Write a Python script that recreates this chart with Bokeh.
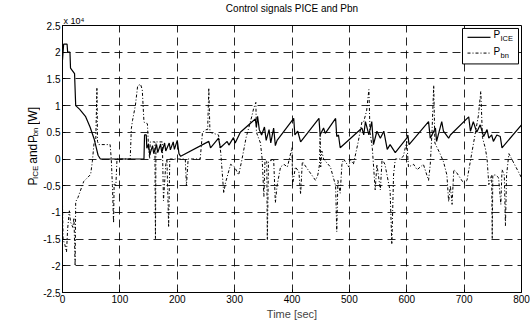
from bokeh.plotting import figure
from bokeh.models import Label, FixedTicker, Range1d, Title
from bokeh.layouts import row
from bokeh.embed import file_html
from bokeh.resources import INLINE

# ---- data (values in units of 1e4 W) ----
t_ice = [0, 2, 8, 9, 13, 14, 21, 23, 30, 40,
         48, 55, 58, 62, 66, 142, 143, 146, 147, 150,
         152, 157, 159, 164, 166, 171, 173, 178, 180, 186,
         188, 193, 195, 200, 203, 206, 255, 258, 272, 275,
         287, 290, 298, 301, 310, 336, 338, 340, 343, 347,
         352, 355, 360, 363, 368, 371, 374, 403, 405, 410,
         415, 447, 449, 455, 458, 476, 478, 481, 484, 522,
         525, 528, 534, 539, 542, 548, 554, 560, 566, 571,
         580, 600, 602, 604, 638, 641, 650, 652, 661, 664,
         673, 676, 708, 711, 716, 722, 728, 734, 740, 743,
         748, 751, 757, 763, 766, 800]
p_ice = [1.85, 2.15, 2.15, 2.0, 2.0, 1.7, 1.6, 1.0, 0.93, 0.8,
         0.6, 0.38, 0.25, 0.07, 0.0, 0.0, 0.45, 0.45, 0.2, 0.28,
         0.08, 0.25, 0.1, 0.27, 0.12, 0.28, 0.12, 0.3, 0.15, 0.3,
         0.17, 0.32, 0.18, 0.35, 0.1, 0.05, 0.33, 0.21, 0.39, 0.21,
         0.33, 0.26, 0.4, 0.3, 0.5, 0.75, 0.6, 0.8, 0.55, 0.45,
         0.6, 0.35, 0.55, 0.3, 0.58, 0.25, 0.35, 0.76, 0.45, 0.52,
         0.32, 0.76, 0.45, 0.58, 0.48, 0.76, 0.42, 0.45, 0.21, 0.58,
         0.45, 0.7, 0.45, 0.7, 0.27, 0.52, 0.39, 0.52, 0.18, 0.27,
         0.12, 0.39, 0.45, 0.27, 0.7, 0.39, 0.58, 0.33, 0.7, 0.52,
         0.39, 0.45, 0.79, 0.52, 0.7, 0.5, 0.64, 0.42, 0.55, 0.39,
         0.45, 0.33, 0.45, 0.42, 0.21, 0.64]

t_bn = [0, 1, 4, 7, 9, 12, 14, 18, 20, 22,
        23, 27, 37, 49, 52, 55, 58, 60, 61, 63,
        83, 85, 87, 89, 90, 93, 95, 118, 120, 122,
        127, 131, 136, 139, 142, 148, 150, 152, 153, 161,
        162, 163, 174, 176, 180, 182, 185, 187, 214, 216,
        219, 240, 244, 250, 253, 255, 257, 272, 276, 281,
        284, 293, 300, 307, 312, 320, 330, 333, 337, 338,
        345, 348, 351, 353, 356, 357, 359, 368, 371, 374,
        380, 386, 392, 400, 401, 406, 412, 415, 418, 441,
        445, 448, 449, 450, 452, 455, 467, 476, 478, 480,
        484, 487, 490, 499, 502, 507, 515, 522, 525, 530,
        534, 536, 540, 545, 548, 554, 557, 562, 571, 574,
        577, 580, 588, 594, 600, 603, 612, 618, 629, 638,
        641, 644, 647, 649, 658, 664, 670, 673, 676, 679,
        682, 686, 699, 705, 725, 729, 732, 737, 740, 743,
        748, 749, 750, 755, 760, 764, 766, 770, 772, 774,
        778, 800]
p_bn = [-0.85, -1.5, -1.6, -1.74, -1.3, -0.97, -1.18, -1.28, -1.1, -2.0,
        -0.8, -0.72, -0.42, -0.29, -0.05, 0.3, 0.35, 1.34, 0.33, 0.27,
        0.27, 0.0, -0.5, -1.2, -0.45, -0.5, 0.0, 0.0, 0.57, 0.72,
        1.0, 1.37, 1.4, 1.3, 0.69, 0.66, 0.2, 0.0, 0.32, 0.32,
        -1.5, 0.32, 0.32, -0.78, -0.1, 0.0, -1.28, 0.0, 0.0, -0.5,
        0.0, 0.0, 0.5, 0.55, 0.55, 1.33, 0.5, 0.45, 0.1, -0.64,
        -0.45, -0.1, -0.15, -0.3, -0.05, 0.4, 0.8, 0.94, 1.06, 0.5,
        0.3, 0.0, -0.7, 0.0, -0.05, -1.52, -0.05, 0.0, -0.82, -0.5,
        -0.15, -0.1, -0.15, 0.21, -0.48, -0.15, -0.24, -0.66, -0.05, -0.4,
        -0.3, -0.1, 0.45, -0.15, 0.15, 0.0, -0.15, -0.5, -1.36, -0.4,
        -0.64, -0.1, 0.0, -0.15, 0.0, -0.1, 0.3, 0.7, 0.7, 0.9,
        1.3, 0.5, 0.2, -0.58, -0.1, -0.58, 0.0, -0.1, -0.6, -1.6,
        -0.3, 0.0, 0.0, 0.05, 0.33, -0.15, -0.1, -0.2, -0.1, -0.4,
        -0.1, 0.5, 1.38, 0.3, 0.1, -0.05, -0.3, -0.8, -0.5, -0.85,
        -0.2, -0.24, -0.45, -0.4, 0.82, 1.27, 0.4, 0.2, 0.0, -0.48,
        -0.3, -1.5, -0.3, -0.3, -0.35, -0.85, -0.2, -0.3, -1.25, -0.3,
        0.1, -0.35]

x_ticks = [0, 100, 200, 300, 400, 500, 600, 700, 800]
x_tick_labels = ["0", "100", "200", "300", "400", "500", "600", "700", "800"]
y_ticks = [-2.5, -2, -1.5, -1, -0.5, 0, 0.5, 1, 1.5, 2, 2.5]
y_tick_labels = ["-2.5", "-2", "-1.5", "-1", "-0.5", "0", "0.5", "1", "1.5", "2", "2.5"]

# ---- layout geometry (page pixels; the Bokeh page has no body margin) ----
TOTAL_W, TOTAL_H = 530, 322
LEFT_W = 40                 # strip holding the rotated y label
MW = TOTAL_W - LEFT_W
BL, BR, BT, BB = 22, 9, 22, 29
FW = MW - BL - BR
FH = TOTAL_H - BT - BB
FRAME_LEFT = LEFT_W + BL
FRAME_TOP = BT
X0, X1 = 0, 800
Y0, Y1 = -2.5, 2.5
FONT = "Liberation Sans"


def dx(page_x):
    return X0 + (page_x - FRAME_LEFT) * (X1 - X0) / FW


def dy(page_y):
    return Y1 - (page_y - FRAME_TOP) * (Y1 - Y0) / FH


# ---- main axes ----
p = figure(width=MW, height=TOTAL_H, x_range=Range1d(X0, X1), y_range=Range1d(Y0, Y1),
           output_backend="svg", toolbar_location=None,
           min_border_left=BL, min_border_right=BR, min_border_top=BT, min_border_bottom=BB)
p.background_fill_color = "white"
p.border_fill_color = "white"
p.outline_line_color = "black"
p.outline_line_width = 1

# multiplier (nearest the frame) and title above it
p.add_layout(Title(text="x 10\u2074", align="left", text_font=FONT, text_font_size="9px",
                   text_font_style="normal", text_color="black", standoff=0, offset=1), "above")
p.add_layout(Title(text="Control signals PICE and Pbn", align="center", text_font=FONT,
                   text_font_size="10px", text_font_style="normal", text_color="black",
                   standoff=0), "above")

for ax in (p.xaxis, p.yaxis):
    ax.axis_line_color = "black"
    ax.major_tick_line_color = "black"
    ax.major_tick_in = 3
    ax.major_tick_out = 0
    ax.minor_tick_line_color = None
    ax.major_label_text_font = FONT
    ax.major_label_text_font_size = "10px"
    ax.major_label_text_color = "black"
    ax.major_label_standoff = 2

p.xaxis.ticker = FixedTicker(ticks=x_ticks)
p.yaxis.ticker = FixedTicker(ticks=y_ticks)
p.xaxis.major_label_overrides = {t: s for t, s in zip(x_ticks, x_tick_labels)}
p.yaxis.major_label_overrides = {t: s for t, s in zip(y_ticks, y_tick_labels)}
p.xaxis.axis_label = "Time [sec]"
p.xaxis.axis_label_text_font = FONT
p.xaxis.axis_label_text_font_size = "11px"
p.xaxis.axis_label_text_font_style = "normal"
p.xaxis.axis_label_standoff = 2

p.xgrid.ticker = FixedTicker(ticks=x_ticks)
p.ygrid.ticker = FixedTicker(ticks=y_ticks)
for g in (p.xgrid, p.ygrid):
    g.grid_line_color = "black"
    g.grid_line_alpha = 0.85
    g.grid_line_dash = "8 5"
    g.grid_line_width = 1

p.line(t_bn, p_bn, line_color="black", line_width=1, line_dash="3 2 1 2")
p.line(t_ice, p_ice, line_color="black", line_width=1.2)

# legend with subscripts
p.quad(left=[dx(462)], right=[dx(518)], bottom=[dy(61)], top=[dy(25)],
       fill_color="white", line_color="black", line_width=1, level="annotation")
p.line([dx(467), dx(490)], [dy(34), dy(34)], line_color="black", line_width=1.2, level="overlay")
p.line([dx(467), dx(490)], [dy(50), dy(50)], line_color="black", line_width=1,
       line_dash="3 2 1 2", level="overlay")


def lab(fig, text, x, y, size, angle=0.0, baseline="middle", align="left"):
    fig.add_layout(Label(x=x, y=y, text=text, text_font=FONT, text_font_size=size,
                         text_color="black", angle=angle, text_align=align,
                         text_baseline=baseline, level="overlay"))


lab(p, "P", dx(493), dy(31.5), "10px")
lab(p, "ICE", dx(500), dy(35.5), "7.5px")
lab(p, "P", dx(493), dy(48), "10px")
lab(p, "bn", dx(500), dy(52), "7.5px")

# ---- left strip: rotated y label with subscripts ----
left = figure(width=LEFT_W, height=TOTAL_H, x_range=Range1d(0, LEFT_W), y_range=Range1d(0, TOTAL_H),
              output_backend="svg", toolbar_location=None,
              x_axis_type=None, y_axis_type=None,
              min_border=0, min_border_left=0, min_border_right=0,
              min_border_top=0, min_border_bottom=0)
left.outline_line_color = None
left.background_fill_color = "white"
left.border_fill_color = "white"


def ly(page_y):
    return TOTAL_H - page_y


ang = 1.5707963
lab(left, "P", 32, ly(193), "12px", ang, "alphabetic")
lab(left, "ICE", 35, ly(185), "8px", ang, "alphabetic")
lab(left, "and", 32, ly(166.7), "12px", ang, "alphabetic")
lab(left, "P", 32, ly(141.7), "12px", ang, "alphabetic")
lab(left, "bn", 35, ly(133.7), "8px", ang, "alphabetic")
lab(left, "[W]", 32, ly(119.8), "12px", ang, "alphabetic")

layout = row(left, p, spacing=0)
open("out.html", "w").write(file_html(layout, INLINE))
